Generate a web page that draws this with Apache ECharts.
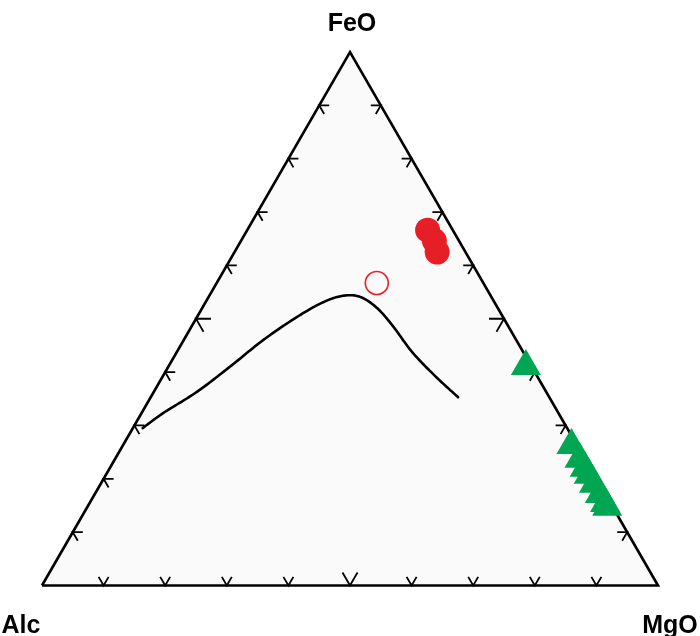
<!DOCTYPE html>
<html>
<head>
<meta charset="utf-8">
<style>html,body{margin:0;padding:0;background:#fff}#c{width:700px;height:636px}</style>
<script src="https://cdn.jsdelivr.net/npm/echarts@6/dist/echarts.min.js"></script>
</head>
<body>
<div id="c"></div>
<script>
// Ternary AFM data (percent)
const vertexLabels = ['FeO', 'Alc', 'MgO'];
const fieldLabels = ['Toleítico', 'Calci-Alcalino'];

const redFeO = [66.6, 64.6, 62.5];
const redMgO = [29.3, 31.4, 32.9];
const redAlc = [4.1, 4.0, 4.6];

const openFeO = [56.7];
const openMgO = [26.0];
const openAlc = [17.3];

const greenFeO = [41.9, 27.1, 24.5, 22.8, 21.5, 19.8, 17.9, 16.2, 15.5];
const greenMgO = [57.6, 72.4, 75.0, 76.7, 78.0, 79.7, 81.6, 83.3, 84.0];
const greenAlc = [0.5, 0.5, 0.5, 0.5, 0.5, 0.5, 0.5, 0.5, 0.5];

const curveFeO = [29.5, 32.3, 36.3, 41.0, 46.0, 50.3, 53.1, 54.3, 54.1, 52.0, 48.5, 43.6, 38.9, 35.3];
const curveMgO = [1.6, 3.5, 7.0, 10.0, 12.9, 16.2, 19.1, 21.7, 24.6, 28.4, 32.8, 38.4, 44.7, 49.9];
const curveAlc = [68.9, 64.2, 56.7, 49.0, 41.1, 33.5, 27.8, 24.0, 21.3, 19.6, 18.7, 18.0, 16.4, 14.8];

const tickValues = [10, 20, 30, 40, 50, 60, 70, 80, 90];

const H = Math.sqrt(3) / 2;
function tern(feo, mgo, alc) {
  const s = feo + mgo + alc;
  const f = feo / s, m = mgo / s;
  return [m + f / 2, f * H];
}
function series3(F, M, A) { return F.map((f, i) => tern(f, M[i], A[i])); }

const outline = [tern(0, 0, 100), tern(100, 0, 0), tern(0, 100, 0), tern(0, 0, 100)];
const curvePts = series3(curveFeO, curveMgO, curveAlc);

// tick data: [x, y, edge, major]
const ticks = [];
tickValues.forEach(t => {
  const maj = t === 50 ? 1 : 0;
  ticks.push(tern(0, t, 100 - t).concat([0, maj]));      // bottom Alc-MgO
  ticks.push(tern(t, 0, 100 - t).concat([1, maj]));      // left Alc-FeO
  ticks.push(tern(t, 100 - t, 0).concat([2, maj]));      // right FeO-MgO
});
const normals = [[0, -1], [0.866, 0.5], [-0.866, 0.5]];

// Catmull-Rom through pixel-space points (rendering only)
function catmull(pts, steps) {
  const out = [];
  for (let i = 0; i < pts.length - 1; i++) {
    const p0 = pts[Math.max(i - 1, 0)], p1 = pts[i], p2 = pts[i + 1], p3 = pts[Math.min(i + 2, pts.length - 1)];
    for (let s = 0; s < steps; s++) {
      const t = s / steps, t2 = t * t, t3 = t2 * t;
      out.push([0, 1].map(k => 0.5 * ((2 * p1[k]) + (-p0[k] + p2[k]) * t + (2 * p0[k] - 5 * p1[k] + 4 * p2[k] - p3[k]) * t2 + (-p0[k] + 3 * p1[k] - 3 * p2[k] + p3[k]) * t3)));
    }
  }
  out.push(pts[pts.length - 1]);
  return out;
}

const chart = echarts.init(document.getElementById('c'));
const font = 'Liberation Sans, Arial, sans-serif';
chart.setOption({
  animation: false,
  backgroundColor: '#ffffff',
  grid: { left: 42, right: 42, top: 52, bottom: 50.5 },
  xAxis: { type: 'value', min: 0, max: 1, show: false },
  yAxis: { type: 'value', min: 0, max: H, show: false },
  series: [
    {
      type: 'line', data: outline, symbol: 'none', clip: false, z: 2,
      lineStyle: { color: '#000', width: 2.6, join: 'miter' },
      areaStyle: { color: '#fafafa', opacity: 1, origin: 'start' }
    },
    {
      type: 'custom', data: ticks, clip: false, z: 3,
      renderItem: function (params, api) {
        const p = api.coord([api.value(0), api.value(1)]);
        const n = normals[api.value(2)];
        const len = api.value(3) ? 15 : 10;
        const ang = Math.PI / 6;
        function rot(v, a) { return [v[0] * Math.cos(a) - v[1] * Math.sin(a), v[0] * Math.sin(a) + v[1] * Math.cos(a)]; }
        const a1 = rot(n, ang), a2 = rot(n, -ang);
        return {
          type: 'polyline',
          shape: { points: [[p[0] + a1[0] * len, p[1] + a1[1] * len], p, [p[0] + a2[0] * len, p[1] + a2[1] * len]] },
          style: { stroke: '#000', lineWidth: 1.8, fill: null }
        };
      }
    },
    {
      type: 'custom', data: curvePts, z: 4, clip: false,
      renderItem: function (params, api) {
        if (params.dataIndex !== 0) return null;
        const px = curvePts.map(p => api.coord(p));
        return {
          type: 'polyline',
          shape: { points: catmull(px, 16) },
          style: { stroke: '#000', lineWidth: 2.6, fill: null, lineJoin: 'round', lineCap: 'round' }
        };
      }
    },
    {
      type: 'scatter', data: series3(openFeO, openMgO, openAlc), symbol: 'circle', symbolSize: 23, z: 5,
      itemStyle: { color: 'rgba(255,255,255,0)', borderColor: '#e8202a', borderWidth: 1.6, opacity: 1 }
    },
    {
      type: 'scatter', data: series3(redFeO, redMgO, redAlc), symbol: 'circle', symbolSize: 25, z: 5,
      itemStyle: { color: '#e61e25', opacity: 1 }
    },
    {
      type: 'scatter', data: series3(greenFeO, greenMgO, greenAlc), symbol: 'triangle', symbolSize: [30, 26], z: 6, clip: false,
      itemStyle: { color: '#00a651', opacity: 1 }
    }
  ],
  graphic: [
    { type: 'text', x: 352, y: 24, style: { text: vertexLabels[0], font: 'bold 25px ' + font, fill: '#000', textAlign: 'center', textVerticalAlign: 'middle' } },
    { type: 'text', x: 21, y: 626, style: { text: vertexLabels[1], font: 'bold 25px ' + font, fill: '#000', textAlign: 'center', textVerticalAlign: 'middle' } },
    { type: 'text', x: 670, y: 626, style: { text: vertexLabels[2], font: 'bold 25px ' + font, fill: '#000', textAlign: 'center', textVerticalAlign: 'middle' } },
    { type: 'text', x: 338, y: 258, style: { text: fieldLabels[0], font: '25px ' + font, fill: '#111', textAlign: 'center', textVerticalAlign: 'middle' } },
    { type: 'text', x: 262, y: 497, style: { text: fieldLabels[1], font: '25px ' + font, fill: '#111', textAlign: 'center', textVerticalAlign: 'middle' } }
  ]
});
</script>
</body>
</html>
